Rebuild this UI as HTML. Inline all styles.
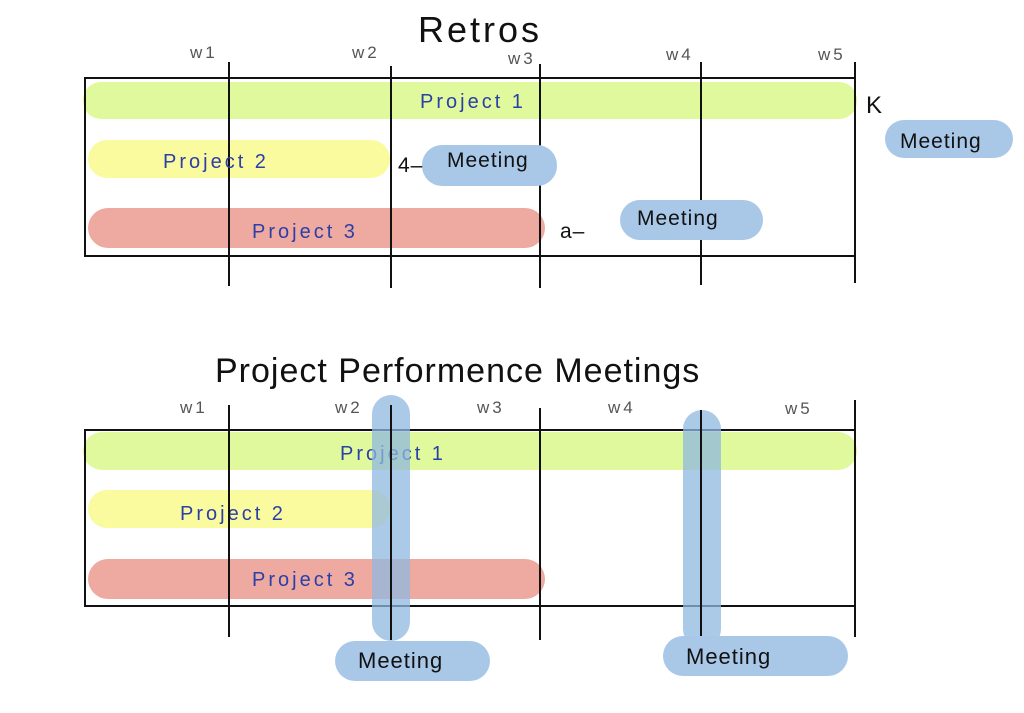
<!DOCTYPE html>
<html><head><meta charset="utf-8"><style>
html,body{margin:0;padding:0;background:#fff;width:1024px;height:713px;overflow:hidden}
svg{display:block}
text{font-family:"Liberation Sans",sans-serif}
</style></head><body>
<svg width="1024" height="713" viewBox="0 0 1024 713" xmlns="http://www.w3.org/2000/svg">
<!-- TOP -->
<text x="418" y="42" font-size="36" fill="#111" letter-spacing="3">Retros</text>
<g font-size="17" fill="#555" letter-spacing="3">
<text x="190" y="58">w1</text><text x="352" y="58">w2</text><text x="508" y="64">w3</text><text x="666" y="60">w4</text><text x="818" y="60">w5</text>
</g>
<rect x="83" y="82" width="774" height="37" rx="18" fill="#dff99c"/>
<rect x="88" y="140" width="302" height="38" rx="19" fill="#fafa9e"/>
<rect x="88" y="208" width="457" height="40" rx="20" fill="#eeaaa0"/>
<rect x="85" y="78" width="770" height="178" fill="none" stroke="#111" stroke-width="2"/>
<g stroke="#111" stroke-width="2">
<line x1="229" y1="62" x2="229" y2="286"/><line x1="391" y1="66" x2="391" y2="288"/><line x1="540" y1="64" x2="540" y2="288"/><line x1="701" y1="62" x2="701" y2="285"/><line x1="855" y1="62" x2="855" y2="283"/>
</g>
<g font-size="20" fill="#2a3fa8" letter-spacing="3">
<text x="420" y="108">Project 1</text><text x="163" y="168">Project 2</text><text x="252" y="238">Project 3</text>
</g>
<rect x="422" y="145" width="135" height="41" rx="20" fill="#a9c8e8"/>
<rect x="620" y="200" width="143" height="40" rx="20" fill="#a9c8e8"/>
<rect x="885" y="120" width="128" height="38" rx="19" fill="#a9c8e8"/>
<g font-size="21" fill="#111" letter-spacing="1">
<text x="398" y="172">4–</text><text x="447" y="167">Meeting</text>
<text x="560" y="238">a–</text><text x="637" y="225">Meeting</text>
<text x="900" y="148">Meeting</text>
<text x="866" y="113" font-size="24">K</text>
</g>
<!-- BOTTOM -->
<text x="215" y="382" font-size="34" fill="#111" letter-spacing="1">Project Performence Meetings</text>
<g font-size="17" fill="#555" letter-spacing="3">
<text x="180" y="413">w1</text><text x="335" y="413">w2</text><text x="477" y="413">w3</text><text x="608" y="413">w4</text><text x="785" y="414">w5</text>
</g>
<rect x="83" y="432" width="774" height="38" rx="19" fill="#dff99c"/>
<rect x="88" y="490" width="302" height="38" rx="19" fill="#fafa9e"/>
<rect x="88" y="559" width="457" height="40" rx="20" fill="#eeaaa0"/>
<rect x="85" y="430" width="770" height="176" fill="none" stroke="#111" stroke-width="2"/>
<g font-size="20" fill="#2a3fa8" letter-spacing="3">
<text x="340" y="460">Project 1</text><text x="180" y="520">Project 2</text><text x="252" y="586">Project 3</text>
</g>
<rect x="372" y="395" width="38" height="246" rx="19" fill="#8fb8e0" fill-opacity="0.75"/>
<rect x="683" y="410" width="38" height="238" rx="19" fill="#8fb8e0" fill-opacity="0.75"/>
<g stroke="#111" stroke-width="2">
<line x1="229" y1="405" x2="229" y2="637"/><line x1="391" y1="405" x2="391" y2="640"/><line x1="540" y1="408" x2="540" y2="640"/><line x1="701" y1="410" x2="701" y2="640"/><line x1="855" y1="400" x2="855" y2="637"/>
</g>
<rect x="335" y="641" width="155" height="40" rx="20" fill="#a9c8e8"/>
<rect x="663" y="636" width="185" height="40" rx="20" fill="#a9c8e8"/>
<g font-size="22" fill="#111" letter-spacing="1">
<text x="358" y="668">Meeting</text><text x="686" y="664">Meeting</text>
</g>
</svg>
</body></html>
